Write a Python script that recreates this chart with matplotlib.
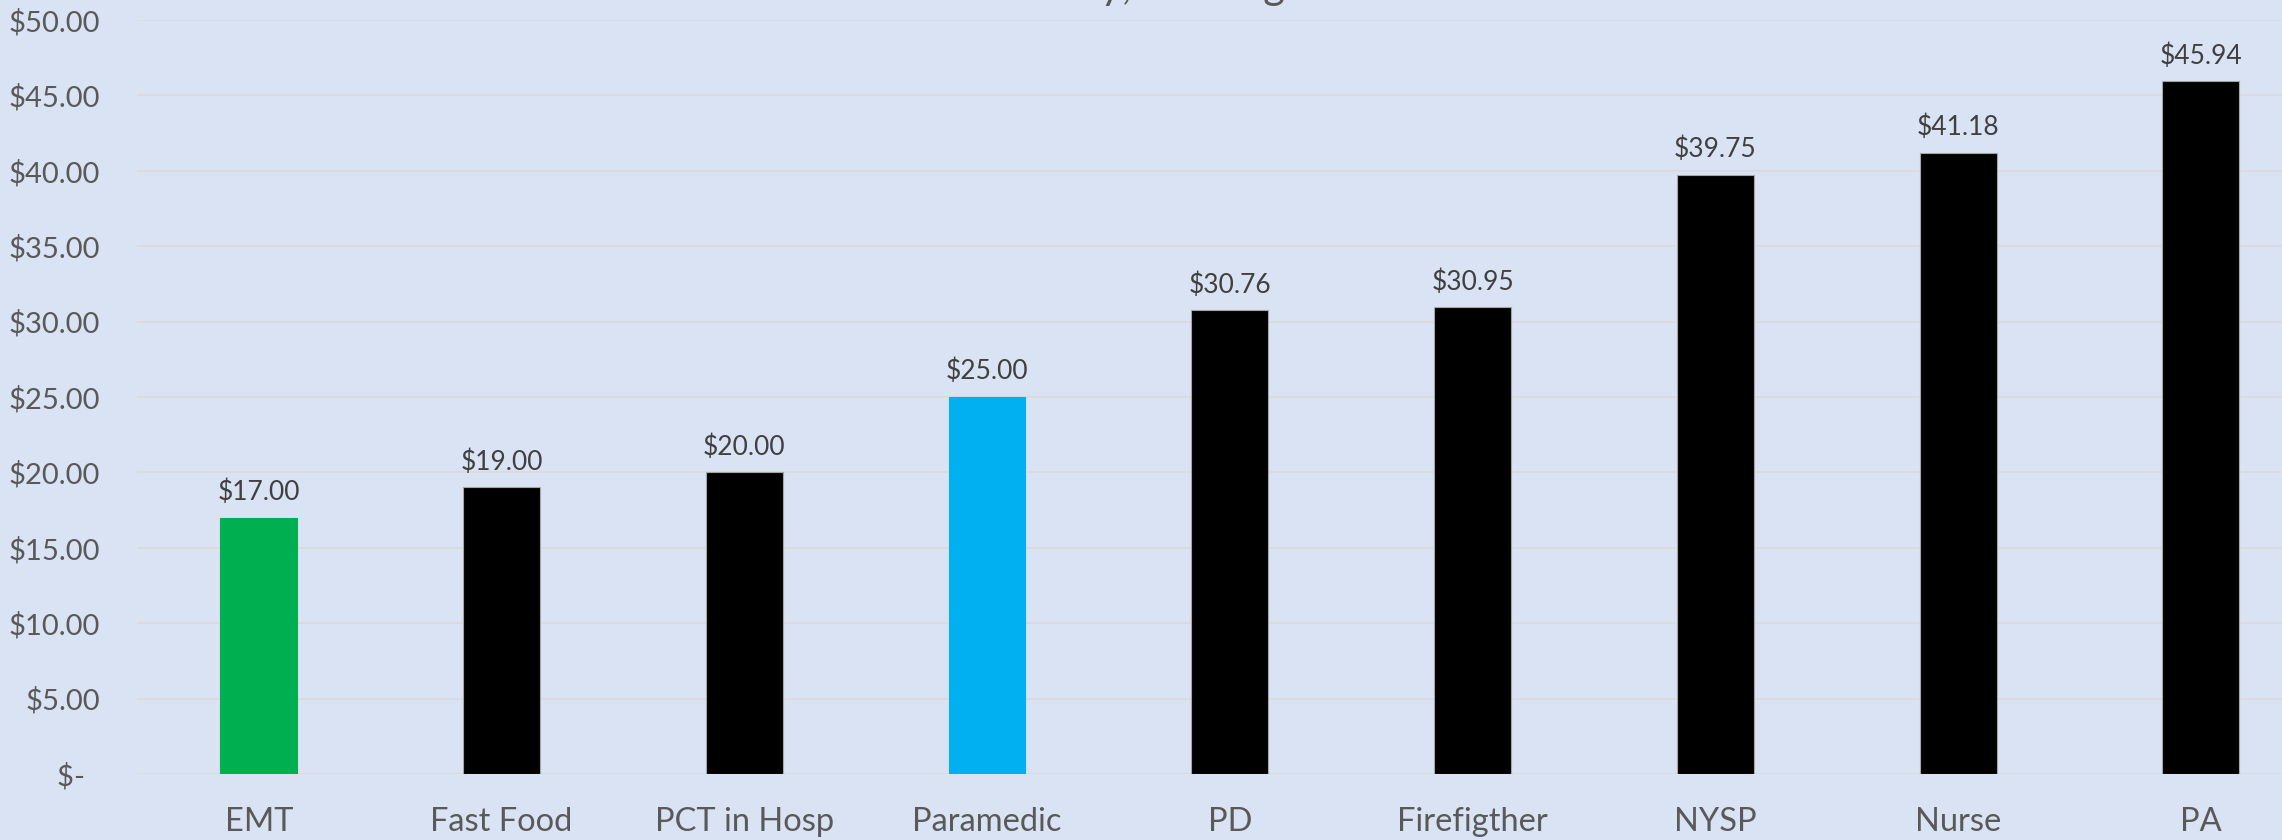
import matplotlib.pyplot as plt
from matplotlib.ticker import FuncFormatter

# hourly pay by job
jobs = ['EMT', 'Fast Food', 'PCT in Hosp', 'Paramedic', 'PD', 'Firefigther', 'NYSP', 'Nurse', 'PA']
pay = [17.00, 19.00, 20.00, 25.00, 30.76, 30.95, 39.75, 41.18, 45.94]
bar_colors = ['#00B050', '#000000', '#000000', '#00B0F0', '#000000', '#000000', '#000000', '#000000', '#000000']
y_ticks = [0, 5, 10, 15, 20, 25, 30, 35, 40, 45, 50]
title = 'Hourly, Starting'

bg = '#DAE3F3'
plt.rcParams['font.family'] = ['Lato', 'DejaVu Sans']

fig = plt.figure(figsize=(22.82, 8.4), dpi=100, facecolor=bg)
ax = fig.add_axes([0.0602, 0.0786, 0.9574, 0.8976], facecolor=bg)

edges = ['#A6A6A6' if c == '#000000' else c for c in bar_colors]
bars = ax.bar(range(len(jobs)), pay, width=0.317, color=bar_colors,
              edgecolor=edges, linewidth=0.8, zorder=3)

for b, v in zip(bars, pay):
    ax.annotate('$%.2f' % v, (b.get_x() + b.get_width() / 2, v),
                xytext=(0, 9), textcoords='offset points',
                ha='center', va='bottom', fontsize=19, color='#404040')

ax.set_xlim(-0.5, len(jobs) - 0.5)
ax.set_ylim(0, 50)
ax.set_xticks(range(len(jobs)))
ax.set_xticklabels(jobs, fontsize=23.5)
ax.set_yticks(y_ticks)
ax.yaxis.set_major_formatter(FuncFormatter(lambda v, p: '$-  ' if v == 0 else '$%.2f' % v))
ax.tick_params(axis='x', length=0, pad=24, labelcolor='#595959')
ax.tick_params(axis='y', length=0, pad=27, labelsize=21, labelcolor='#595959')
ax.grid(axis='y', color='#D9D9D9', linewidth=1.1, zorder=0)
for s in ax.spines.values():
    s.set_visible(False)

# title sits mostly above the visible area, only descenders show (as in the source)
fig.text(0.5, 1.0 + 1 / 840, title, ha='center', va='baseline',
         fontsize=30, color='#595959')

fig.savefig('out.png', dpi=100, facecolor=bg)
